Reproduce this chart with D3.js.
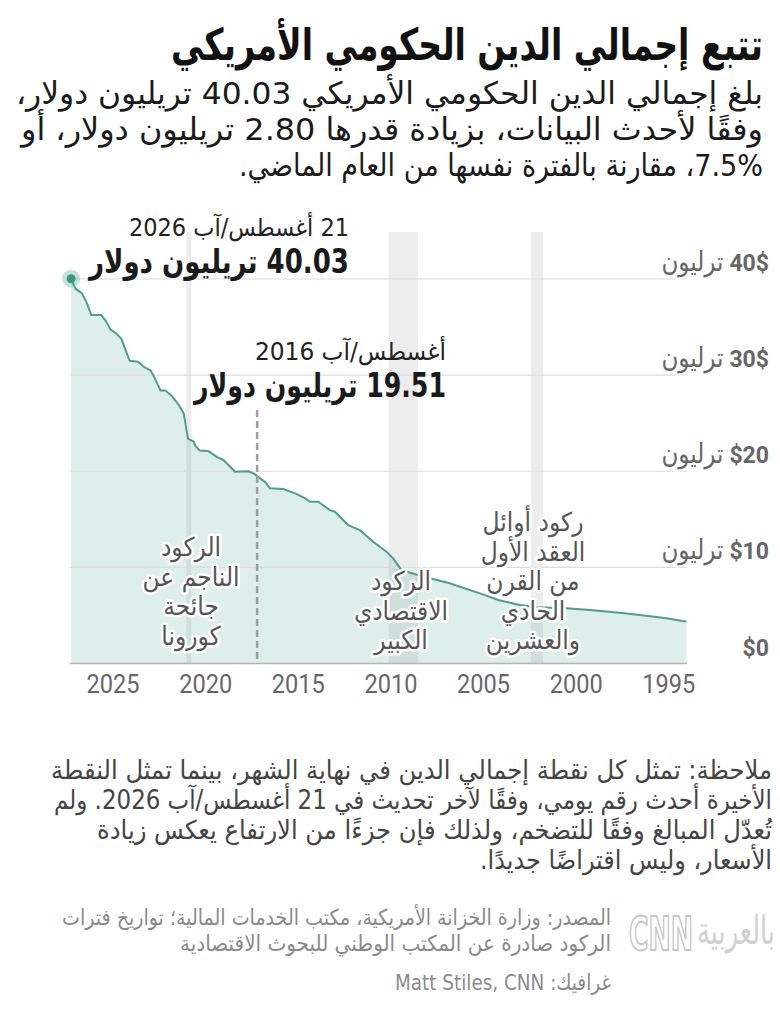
<!DOCTYPE html>
<html><head><meta charset="utf-8">
<script src="https://cdn.jsdelivr.net/npm/d3@7/dist/d3.min.js"></script>
<style>
html,body{margin:0;padding:0;background:#fff}
#wrap{position:relative;width:780px;height:1017px}
svg{display:block}
#title{position:absolute;right:17px;top:19px;direction:rtl;white-space:nowrap;
  font-family:'DejaVu Sans Condensed','DejaVu Sans',sans-serif;font-weight:700;
  font-size:44px;line-height:52px;color:#111;margin:0;transform-origin:100% 50%}
</style>
</head><body>
<div id="wrap">
<svg id="c" width="780" height="1017"></svg>
<h1 id="title"></h1>
</div>
<script>
// ---------- DATA ----------
const years = [1993.43,1993.65,1994.51,1995.95,1997.03,1998.65,1999.9,2001.52,2002.42,2003.59,2004.58,2005.66,2006.2,2006.74,2007.28,2008.54,2008.81,2009.26,2009.62,2010.34,2011.06,2011.69,2012.14,2012.4,2012.68,2013.3,2013.75,2014.01,2014.55,2015.19,2015.9,2016.17,2016.44,2016.6,2016.8,2017.07,2017.79,2018.15,2018.42,2018.78,2019.23,2019.7,2019.95,2020.02,2020.33,2020.56,2020.83,2021.19,2021.55,2021.82,2021.91,2022.18,2022.36,2022.72,2023.03,2023.48,2023.53,2023.93,2024.25,2024.52,2024.79,2025.01,2025.55,2025.78,2026.05,2026.41,2026.64];
const debt  = [4.37,4.42,4.70,5.04,5.28,5.56,5.74,5.84,6.08,6.60,7.30,7.99,8.34,8.61,8.86,9.55,9.72,10.94,11.63,12.67,13.88,14.40,15.27,15.79,15.96,16.83,16.83,17.18,17.70,18.15,18.22,18.9,19.26,19.51,19.78,20.0,19.95,20.65,21.17,21.5,22.1,22.15,22.7,23.07,23.4,26.0,26.9,27.8,28.4,28.4,28.8,29.9,30.5,30.87,31.4,31.5,31.74,33.8,34.4,34.76,35.7,36.25,36.25,37.46,38.5,39.0,40.03];
const xTickYears = [1995,2000,2005,2010,2015,2020,2025];
const yTicks = [0,10,20,30,40];
const yTickNumbers = ["$0","$10","$20","30$","40$"];
const yTickUnit = "ترليون";
const recessionStart = [2001.17, 2007.92, 2020.15];
const recessionEnd   = [2001.83, 2009.50, 2020.42];
const recessionLabels = [
  ["ركود أوائل","العقد الأول","من القرن","الحادي","والعشرين"],
  ["الركود","الاقتصادي","الكبير"],
  ["الركود","الناجم عن","جائحة","كورونا"]
];
const highlightYears = [2026.64, 2016.6];
const highlightValues = [40.03, 19.51];
const highlightDates = ["21 أغسطس/آب 2026", "أغسطس/آب 2016"];
const highlightTexts = ["40.03 تريليون دولار", "19.51 تريليون دولار"];

const titleText = "تتبع إجمالي الدين الحكومي الأمريكي";
const subtitleLines = [
  "بلغ إجمالي الدين الحكومي الأمريكي 40.03 تريليون دولار،",
  "وفقًا لأحدث البيانات، بزيادة قدرها 2.80 تريليون دولار، أو",
  "7.5%، مقارنة بالفترة نفسها من العام الماضي."
];
const noteLines = [
  "ملاحظة: تمثل كل نقطة إجمالي الدين في نهاية الشهر، بينما تمثل النقطة",
  "الأخيرة أحدث رقم يومي، وفقًا لآخر تحديث في 21 أغسطس/آب 2026. ولم",
  "تُعدّل المبالغ وفقًا للتضخم، ولذلك فإن جزءًا من الارتفاع يعكس زيادة",
  "الأسعار، وليس اقتراضًا جديدًا."
];
const sourceLines = [
  "المصدر: وزارة الخزانة الأمريكية، مكتب الخدمات المالية؛ تواريخ فترات",
  "الركود صادرة عن المكتب الوطني للبحوث الاقتصادية"
];
const creditLine = "غرافيك: Matt Stiles, CNN";

// ---------- LAYOUT ----------
const FONT = "'DejaVu Sans Condensed','DejaVu Sans',sans-serif";
const NUMFONT = "Roboto,'DejaVu Sans Condensed',sans-serif";
const svg = d3.select("#c");
const plot = {left:70, right:687, top:232};
const x = d3.scaleLinear().domain([1993.4, 2026.7]).range([plot.right, plot.left]);
const y = d3.scaleLinear().domain([0, 40]).range([663.5, 279]);

function rtl(xp, yp, str, size, weight, color, width) {
  const t = svg.append("text").attr("x", xp).attr("y", yp)
    .attr("direction","rtl").attr("text-anchor","start")
    .style("font-family", FONT).style("font-size", size+"px")
    .style("font-weight", weight).attr("fill", color).text(str);
  if (width) t.attr("textLength", width).attr("lengthAdjust","spacingAndGlyphs");
  return t;
}

// title (HTML, horizontally fitted) + subtitle
const titleEl = d3.select("#title").text(titleText);
const tw = titleEl.node().getBoundingClientRect().width;
titleEl.style("transform", `scaleX(${592/tw})`);
const subW = [747, 742, 524];
subtitleLines.forEach((s,i)=> rtl(763, 104 + i*36, s, 31, 400, "#1a1a1a", subW[i]));

// recession bands
svg.append("g").selectAll("rect").data(recessionStart).join("rect")
  .attr("x", (d,i)=> x(recessionEnd[i]))
  .attr("width", (d,i)=> x(d) - x(recessionEnd[i]))
  .attr("y", plot.top).attr("height", y(0) - plot.top)
  .attr("fill", "#ededed");

// area
const pts = years.map((yr,i)=>[yr, debt[i]]);
svg.append("path").datum(pts)
  .attr("d", d3.area().x(d=>x(d[0])).y0(y(0)).y1(d=>y(d[1])))
  .attr("fill", "#5aa897").attr("fill-opacity", 0.2);

// gridlines
svg.append("g").selectAll("line").data(yTicks.filter(d=>d>0)).join("line")
  .attr("x1", plot.left).attr("x2", plot.right)
  .attr("y1", d=>y(d)).attr("y2", d=>y(d))
  .attr("stroke", "#dcdcdc").attr("stroke-width", 1.2);

// line
svg.append("path").datum(pts)
  .attr("d", d3.line().x(d=>x(d[0])).y(d=>y(d[1])))
  .attr("fill", "none").attr("stroke", "#4e9e8c").attr("stroke-width", 2)
  .attr("stroke-linejoin","round");

// baseline
svg.append("line").attr("x1", plot.left).attr("x2", plot.right)
  .attr("y1", y(0)).attr("y2", y(0)).attr("stroke", "#b5b5b5").attr("stroke-width", 1.5);

// x axis
const xa = svg.append("g").attr("transform", `translate(0,${y(0)})`)
  .call(d3.axisBottom(x).tickValues(xTickYears).tickFormat(d3.format("d")).tickSize(0));
xa.select(".domain").remove();
xa.selectAll("text").attr("dx", 11).attr("dy", 0).attr("y", 29)
  .style("font-family", NUMFONT).style("font-size", "26px").attr("fill", "#666")
  .attr("textLength", 53).attr("lengthAdjust","spacingAndGlyphs");

// y labels
const yl = svg.append("g");
yTicks.forEach((v,i)=>{
  const g = yl.append("g");
  const yy = y(v) - 8;
  const num = g.append("text").attr("x", 769).attr("y", yy).attr("text-anchor","end")
    .attr("direction","ltr")
    .style("font-family", NUMFONT).style("font-size","23px").style("font-weight",700)
    .attr("fill","#666").text(yTickNumbers[i]);
  if (v>0) {
    const w = num.node().getComputedTextLength();
    g.append("text").attr("x", 769 - w - 6).attr("y", yy).attr("direction","rtl").attr("text-anchor","start")
      .style("font-family", FONT).style("font-size","27px").attr("fill","#666")
      .attr("stroke","#fff").attr("stroke-width",4).attr("paint-order","stroke")
      .attr("textLength", 62).attr("lengthAdjust","spacingAndGlyphs")
      .text(yTickUnit);
  }
});

// recession labels
const recCenters = [533, 401, 191];
const recTop = [531, 590, 556];
recessionLabels.forEach((lines,k)=>{
  lines.forEach((s,j)=>{
    svg.append("text").attr("x", recCenters[k]).attr("y", recTop[k] + j*29.5)
      .attr("text-anchor","middle").attr("direction","rtl")
      .style("font-family", FONT).style("font-size","26px").attr("fill","#555")
      .attr("stroke","#fff").attr("stroke-width",5).attr("stroke-linejoin","round")
      .attr("paint-order","stroke").text(s);
  });
});

// dashed marker for Aug 2016
svg.append("line").attr("x1", x(highlightYears[1])).attr("x2", x(highlightYears[1]))
  .attr("y1", 410).attr("y2", y(0))
  .attr("stroke", "#a0a0a0").attr("stroke-width", 2.5).attr("stroke-dasharray","7,4");

// endpoint dot
svg.append("circle").attr("cx", x(highlightYears[0])).attr("cy", y(highlightValues[0]))
  .attr("r", 9).attr("fill", "#5aa897").attr("fill-opacity", 0.35);
svg.append("circle").attr("cx", x(highlightYears[0])).attr("cy", y(highlightValues[0]))
  .attr("r", 4.5).attr("fill", "#3f9580");

// annotations
rtl(349, 236, highlightDates[0], 24, 400, "#222", 220);
rtl(349, 273, highlightTexts[0], 33, 700, "#1a1a1a", 260);
rtl(446, 360, highlightDates[1], 24, 400, "#222", 191);
rtl(446, 397, highlightTexts[1], 33, 700, "#1a1a1a", 252);

// notes
const noteW = [721, 718, 675, 292];
noteLines.forEach((s,i)=> rtl(772, 779 + i*30, s, 26, 400, "#444", noteW[i]));
const srcW = [549, 431];
sourceLines.forEach((s,i)=> rtl(611, 925 + i*26, s, 22, 400, "#8a8a8a", srcW[i]));
rtl(611, 990, creditLine, 22, 400, "#8a8a8a", 216);

// logo
const cnnG = svg.append("g");
const cnn = cnnG.append("text").attr("x", 0).attr("y", 0).style("font-family","'DejaVu Sans Condensed',sans-serif")
  .style("font-size","26px").style("font-weight",700).attr("fill","none").attr("stroke","#c6c6c6")
  .attr("stroke-width",1.1).text("CNN");
const cw = cnn.node().getComputedTextLength();
cnnG.attr("transform", `translate(629,950) scale(${64/cw},1.75)`);
const arG = svg.append("g");
const ar = arG.append("text").attr("x", 0).attr("y", 0).attr("direction","rtl").attr("text-anchor","start")
  .style("font-family", FONT).style("font-size","26px").attr("fill","#d0d0d0")
  .text("بالعربية");
const aw = ar.node().getComputedTextLength();
arG.attr("transform", `translate(775,944) scale(${78/aw},1.5)`);
</script>
</body></html>
